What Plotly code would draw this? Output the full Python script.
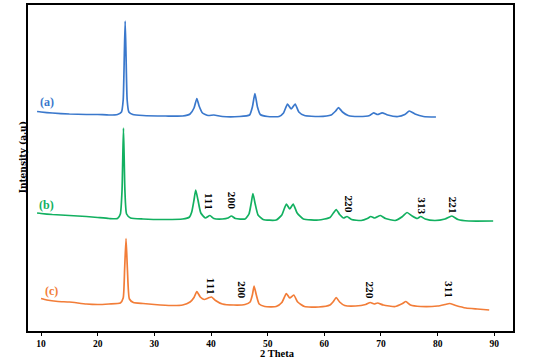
import plotly.graph_objects as go

# ---- data (2 Theta, intensity a.u., stacked) ----
theta_a = [9.3, 10, 12, 15, 18, 20, 22, 23.5, 24.2, 24.5, 24.7, 24.85, 25.0, 25.2, 25.5, 26.2, 28, 32, 35,
           36.3, 37.0, 37.5, 37.9, 38.5, 39.5, 40.5, 42, 45, 46.8, 47.3, 47.75, 48.2, 48.7, 50, 52, 52.8,
           53.5, 54.15, 54.85, 55.5, 56.5, 59, 61.2, 62.0, 62.5, 63.2, 64.2, 66, 68, 68.7, 69.4, 70.2, 71.2,
           73, 74.2, 75.0, 76, 77.5, 79.7]
int_a = [219.5, 219, 218, 217, 216.5, 216.5, 216, 216.5, 219, 231, 276, 310, 276, 231, 219, 216.5, 215.5, 215, 215,
         217, 223, 232.5, 225, 218, 215.5, 216, 214.5, 214.5, 216, 224, 237.5, 224, 216.5, 214.5, 214.5, 218,
         227, 222, 227, 219, 215.5, 214.5, 216, 220, 223.5, 219, 215.5, 214.5, 215.5, 218.2, 216.5, 218.2, 216,
         214.5, 216.5, 220, 217, 214.5, 214]

theta_b = [9.3, 10, 12, 15, 18, 20, 22, 23.5, 24.0, 24.3, 24.55, 24.8, 25.1, 25.8, 28, 32, 35, 36.2, 36.6,
           37.0, 37.3, 37.7, 38.2, 39.0, 39.8, 40.5, 42, 43.0, 43.6, 44.3, 46, 46.7, 47.1, 47.4, 47.8, 48.3,
           49.2, 51.5, 52.5, 53.3, 53.9, 54.5, 55.2, 56.3, 59, 61.0, 61.6, 62.1, 62.7, 63.4, 64.0, 64.8, 66.5,
           67.6, 68.2, 68.9, 69.9, 70.8, 72.5, 73.8, 74.6, 75.5, 76.4, 77.0, 77.8, 79.5, 81.3, 82.5, 83.6,
           85.5, 89.8]
int_b = [118, 117.5, 116.5, 115.5, 114.5, 113.5, 112.5, 112.5, 117, 141, 203, 141, 117, 113, 112, 111.5, 112, 114, 119,
         131, 141, 131, 118, 113, 115.5, 112.5, 112, 113, 115, 112.5, 112, 117, 128, 137.5, 127, 116,
         111.5, 111, 116, 127, 122, 127, 118, 112, 111, 113.5, 118, 121.5, 116.5, 113, 114.5, 111.5, 110.5,
         112.5, 114.5, 113, 115.5, 112.5, 110.5, 114.5, 118.5, 115, 112.5, 114.5, 112, 110.5, 112, 115, 111.5,
         110, 110]

theta_c = [10, 11, 13, 15, 18, 20, 22, 24.0, 24.5, 24.75, 25.0, 25.25, 25.6, 26.3, 28, 30, 33, 35, 36.3,
           37.0, 37.5, 38.1, 38.8, 39.5, 40.1, 40.8, 42, 44, 46, 46.9, 47.3, 47.6, 48.0, 48.5, 49.5, 51.5,
           52.5, 53.3, 53.9, 54.6, 55.3, 56.5, 59, 61.0, 61.6, 62.1, 62.7, 63.6, 65.5, 67.3, 68.1, 68.8, 69.4,
           70.4, 72.5, 73.8, 74.4, 75.2, 77, 80, 81.3, 82.1, 83.2, 85, 87, 89.1]
int_c = [32.5, 31, 29.5, 29, 27, 26.5, 27, 28, 33, 61, 92.5, 61, 32, 28.5, 27.5, 26.5, 25.5, 26, 29,
         33.5, 39.5, 34, 31.5, 33, 34, 30.5, 27, 26, 26.5, 29, 36, 45, 36, 27, 24.5, 24.5,
         28.5, 37.5, 33, 36, 29, 24.5, 24, 26, 29.5, 33.5, 29, 25.5, 25, 26.5, 28.5, 27, 28,
         26, 24.5, 27.5, 29.5, 26, 24.5, 25, 26.5, 27.5, 25.5, 23, 22, 21]

sample_labels = ["(a)", "(b)", "(c)"]
sample_label_x = [11.0, 11.05, 11.9]
sample_label_y = [229, 126, 40]

hkl_b_text = ["111", "200", "220", "313", "221"]
hkl_b_x = [39.6, 43.5, 64.1, 77.0, 82.6]
hkl_b_y = [129.3, 130.3, 127, 125, 126]
hkl_c_text = ["111", "200", "220", "311"]
hkl_c_x = [39.8, 45.3, 67.8, 81.7]
hkl_c_y = [44.3, 41.7, 41, 41.7]

x_ticks = [10, 20, 30, 40, 50, 60, 70, 80, 90]

colors = ["#3a78cc", "#12b060", "#f27d38"]
SERIF = "Liberation Serif"
COND = "DejaVu Serif Condensed, Liberation Serif"

fig = go.Figure()
for xs, ys, c in [(theta_a, int_a, colors[0]), (theta_b, int_b, colors[1]), (theta_c, int_c, colors[2])]:
    fig.add_trace(go.Scatter(x=xs, y=ys, mode="lines",
                             line=dict(color=c, width=1.7, shape="spline", smoothing=0.5),
                             showlegend=False, hoverinfo="skip"))

for t, x, y, c in zip(sample_labels, sample_label_x, sample_label_y, colors):
    fig.add_annotation(x=x, y=y, text=t, showarrow=False, xref="x", yref="y",
                       font=dict(family=SERIF, size=12, color=c, weight="bold"))

for texts, xs, ys in [(hkl_b_text, hkl_b_x, hkl_b_y), (hkl_c_text, hkl_c_x, hkl_c_y)]:
    for t, x, y in zip(texts, xs, ys):
        fig.add_annotation(x=x, y=y, text=t, showarrow=False, textangle=90, xref="x", yref="y",
                           font=dict(family=COND, size=9, color="black", weight="bold"))

fig.add_annotation(x=51.7, y=-0.0889, xref="x", yref="paper", yanchor="bottom", borderpad=0,
                   text="2 Theta", showarrow=False,
                   font=dict(family=SERIF, size=10.5, color="black", weight="bold"))
fig.add_annotation(x=-0.025, y=0.534, xref="paper", yref="paper", text="Intensity (a.u)", showarrow=False,
                   textangle=-90, font=dict(family=COND, size=10, color="black", weight="bold"))

fig.update_layout(
    width=550, height=360,
    margin=dict(l=28, r=37, t=5, b=29, autoexpand=False),
    paper_bgcolor="white", plot_bgcolor="white",
    xaxis=dict(range=[7.7, 93.3], tickvals=x_ticks, ticks="outside", ticklen=3, tickwidth=1.2,
               tickcolor="black", showline=True, linecolor="black", linewidth=1.5, mirror=True,
               showgrid=False, zeroline=False, automargin=False,
               tickfont=dict(family=SERIF, size=9.5, color="black", weight="bold")),
    yaxis=dict(range=[0, 326], showticklabels=False, ticks="", showline=True, linecolor="black",
               linewidth=1.5, mirror=True, showgrid=False, zeroline=False, automargin=False),
)

fig.write_html("out.html", config={"displayModeBar": False},
               post_script="document.body.style.margin='0';")
